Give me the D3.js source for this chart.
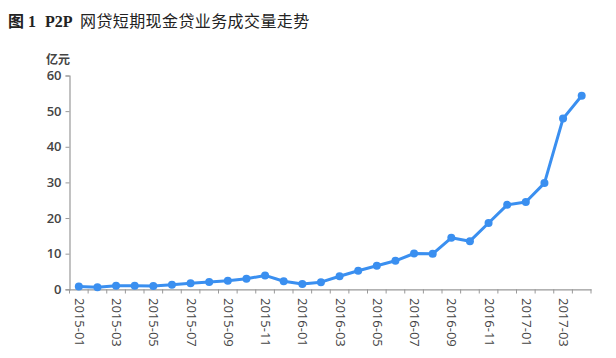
<!DOCTYPE html>
<html><head><meta charset="utf-8">
<script src="https://cdn.jsdelivr.net/npm/d3@7"></script>
<style>body{margin:0;background:#fff}</style>
</head><body>
<svg id="c" width="616" height="358"></svg>
<script>
const months = ["2015-01","2015-02","2015-03","2015-04","2015-05","2015-06","2015-07","2015-08","2015-09","2015-10","2015-11","2015-12",
"2016-01","2016-02","2016-03","2016-04","2016-05","2016-06","2016-07","2016-08","2016-09","2016-10","2016-11","2016-12",
"2017-01","2017-02","2017-03","2017-04"];
const volume = [0.8,0.6,1.0,1.0,0.9,1.3,1.7,2.05,2.4,2.95,3.9,2.25,1.5,2.0,3.65,5.2,6.6,8.0,10.05,9.95,14.45,13.5,18.6,23.7,24.5,29.8,47.9,54.3];
const yTicks = [0,10,20,30,40,50,60];
const titleLabel = "图 1";
const titleCode = "P2P";
const titleText = "网贷短期现金贷业务成交量走势";
const unit = "亿元";

const svg = d3.select("#c");
const x = d3.scaleBand().domain(months).range([69.5, 591]).padding(0);
const y = d3.scaleLinear().domain([0,60]).range([289.3, 75.5]);

const t = svg.append("text").attr("x",8).attr("y",27)
  .attr("font-family","'Liberation Serif','Noto Sans CJK SC',serif")
  .attr("font-size",16).attr("fill","#222");
t.append("tspan").attr("font-weight","bold").text(titleLabel);
t.append("tspan").attr("x",45).attr("font-weight","bold").text(titleCode);
t.append("tspan").attr("x",80).attr("letter-spacing",0.4).text(titleText);

svg.append("text").attr("x",46).attr("y",64)
  .attr("font-family","'Noto Sans CJK SC',sans-serif").attr("font-size",12)
  .attr("font-weight","bold").attr("fill","#444").text(unit);

const yAxis = svg.append("g").attr("transform","translate(69.5,0)")
  .call(d3.axisLeft(y).tickValues(yTicks).tickSize(4).tickPadding(4));
yAxis.select(".domain").attr("stroke","#999").attr("stroke-width",1.2);
yAxis.selectAll(".tick line").attr("stroke","#999");
yAxis.selectAll("text").attr("font-family","'Open Sans',sans-serif").attr("font-size",13)
  .attr("font-weight","600").attr("fill","#444");

const xAxis = svg.append("g").attr("transform","translate(0,289.3)")
  .call(d3.axisBottom(x).tickSize(0).tickFormat(""));
xAxis.select(".domain").attr("stroke","#999").attr("stroke-width",1.2);
const edges = months.map(m => x(m)).concat([x.range()[1]]);
svg.append("g").selectAll("line").data(edges).join("line")
  .attr("x1",d=>d).attr("x2",d=>d).attr("y1",289.3).attr("y2",293.5)
  .attr("stroke","#999");
svg.append("g").selectAll("text").data(months.filter((m,i)=>i%2===0)).join("text")
  .attr("transform",d=>`translate(${x(d)+x.bandwidth()/2-4},298) rotate(90)`)
  .attr("font-family","'Open Sans',sans-serif").attr("font-size",13)
  .attr("fill","#444").text(d=>d);

const color = "#3a8ff0";
const line = d3.line().x((d,i)=>x(months[i])+x.bandwidth()/2).y(d=>y(d));
svg.append("path").datum(volume).attr("d",line).attr("fill","none")
  .attr("stroke",color).attr("stroke-width",3).attr("stroke-linejoin","round");
svg.append("g").selectAll("circle").data(volume).join("circle")
  .attr("cx",(d,i)=>x(months[i])+x.bandwidth()/2).attr("cy",d=>y(d)).attr("r",4)
  .attr("fill",color);
</script>
</body></html>
